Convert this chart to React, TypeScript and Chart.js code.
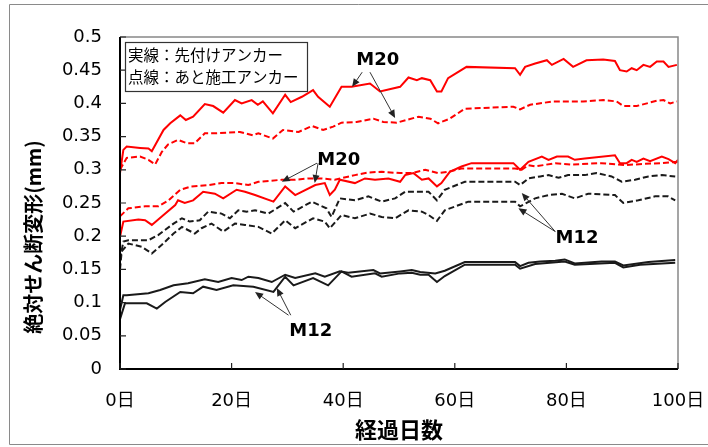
import React, { useEffect, useRef } from 'react';
import { Chart, registerables } from 'chart.js';

Chart.register(...registerables);

type P = [number, number];

// ---- axis ticks ----
const xTickDays = [0, 20, 40, 60, 80, 100];
const yTickValues = [0, 0.05, 0.1, 0.15, 0.2, 0.25, 0.3, 0.35, 0.4, 0.45, 0.5];

// ---- texts ----
const xTitle = '経過日数';
const yTitle = '絶対せん断変形(mm)';
const legendLines = ['実線：先付けアンカー', '点線：あと施工アンカー'];

// ---- series: [day, deformation mm] ----
// M20 先付け (solid, red, upper)
const m20PreUpper: P[] = [
  [0, 0.295], [0.6, 0.33], [1.2, 0.335], [3.6, 0.333], [5.1, 0.332], [5.7, 0.328], [7.8, 0.36], [9.0, 0.37],
  [10.8, 0.382], [11.8, 0.375], [13.1, 0.38], [15.2, 0.399], [16.7, 0.396], [18.5, 0.386], [20.6, 0.405],
  [21.8, 0.4], [23.6, 0.405], [24.7, 0.398], [25.6, 0.403], [27.4, 0.385], [29.6, 0.413], [30.6, 0.402],
  [32.6, 0.41], [34.6, 0.42], [35.5, 0.41], [37.6, 0.395], [39.7, 0.425], [41.5, 0.425], [44.8, 0.43],
  [46.6, 0.418], [50.2, 0.425], [51.7, 0.439], [53.2, 0.435], [54.1, 0.438], [55.6, 0.435], [56.8, 0.418],
  [57.6, 0.418], [58.8, 0.438], [62.1, 0.455], [70.8, 0.453], [71.7, 0.443], [72.6, 0.455], [74.4, 0.46],
  [76.5, 0.465], [77.4, 0.458], [79.5, 0.467], [81.2, 0.455], [83.6, 0.465], [86.6, 0.466], [88.7, 0.464],
  [89.6, 0.45], [90.8, 0.448], [91.7, 0.453], [92.6, 0.45], [93.8, 0.458], [95, 0.455], [96.2, 0.463],
  [97.4, 0.463], [98.3, 0.455], [99.8, 0.458],
];
// M20 あと施工 (dashed, red, upper)
const m20PostUpper: P[] = [
  [0, 0.3], [1.2, 0.318], [3.6, 0.32], [5.1, 0.315], [6.3, 0.308], [7.5, 0.327], [8.6, 0.338], [10.4, 0.345],
  [12.0, 0.34], [13.4, 0.34], [15.2, 0.355], [17.3, 0.355], [21.5, 0.357], [23.8, 0.352], [24.8, 0.355],
  [27.4, 0.347], [29.2, 0.36], [32.0, 0.357], [34.4, 0.366], [36.4, 0.36], [38.2, 0.365], [39.7, 0.371],
  [42.4, 0.372], [45.4, 0.377], [47.2, 0.372], [49.6, 0.371], [53.5, 0.38], [55.6, 0.377], [57.0, 0.37],
  [59.1, 0.377], [61.8, 0.392], [70.5, 0.395], [71.7, 0.391], [73.5, 0.398], [77.7, 0.403], [83.0, 0.403],
  [86.6, 0.405], [89.0, 0.403], [90.2, 0.396], [92.6, 0.396], [96.2, 0.404], [97.4, 0.405], [98.6, 0.4],
  [99.8, 0.403],
];
// M20 先付け (solid, red, lower)
const m20PreLower: P[] = [
  [0, 0.199], [0.6, 0.222], [3.3, 0.225], [4.5, 0.224], [5.7, 0.217], [7.8, 0.232], [9.9, 0.247], [10.4, 0.254],
  [11.6, 0.25], [13.1, 0.254], [14.9, 0.267], [17.0, 0.264], [18.5, 0.257], [20.9, 0.27], [22.4, 0.267],
  [24.2, 0.262], [27.5, 0.252], [29.6, 0.275], [31.4, 0.262], [35.0, 0.277], [36.7, 0.28], [37.6, 0.262],
  [38.5, 0.27], [39.4, 0.285], [42.1, 0.28], [43.9, 0.287], [45.7, 0.285], [48.1, 0.287], [50.2, 0.282],
  [51.1, 0.292], [52.6, 0.295], [54.1, 0.285], [55.3, 0.287], [56.8, 0.275], [57.6, 0.28], [59.1, 0.297],
  [61.2, 0.305], [63.0, 0.31], [70.5, 0.31], [71.7, 0.3], [73.2, 0.312], [75.6, 0.32], [76.8, 0.315],
  [78.3, 0.32], [80.3, 0.32], [81.5, 0.315], [83.3, 0.317], [88.7, 0.322], [89.6, 0.31], [90.8, 0.31],
  [91.7, 0.315], [92.6, 0.312], [93.8, 0.317], [95, 0.313], [97.1, 0.32], [98.3, 0.316], [99.5, 0.31], [100, 0.315],
];
// M20 あと施工 (dashed, red, lower)
const m20PostLower: P[] = [
  [0, 0.23], [1.5, 0.242], [4.5, 0.245], [6.9, 0.245], [8.7, 0.254], [10.8, 0.27], [12.8, 0.275], [15.8, 0.277],
  [18.2, 0.28], [20.6, 0.28], [23.0, 0.277], [24.8, 0.282], [29.0, 0.285], [31.4, 0.285], [33.7, 0.287],
  [36.1, 0.287], [38.5, 0.285], [42.1, 0.292], [44.5, 0.296], [46.9, 0.297], [50.2, 0.295], [52.3, 0.295],
  [54.7, 0.3], [57.0, 0.295], [58.8, 0.297], [61.2, 0.302], [70.8, 0.302], [72.0, 0.3], [73.2, 0.307],
  [74.4, 0.305], [78.0, 0.31], [80.9, 0.308], [86.3, 0.31], [90.5, 0.307], [94.1, 0.309], [97.1, 0.31], [100, 0.312],
];
// M12 あと施工 (dashed, black, upper)
const m12PostUpper: P[] = [
  [0, 0.165], [0.6, 0.192], [1.5, 0.194], [5.1, 0.194], [6.9, 0.202], [9.6, 0.219], [11.1, 0.227], [12.5, 0.222],
  [14.3, 0.224], [15.8, 0.237], [18.2, 0.234], [19.7, 0.227], [21.2, 0.239], [22.7, 0.237], [24.2, 0.239],
  [26.6, 0.234], [29.6, 0.25], [31.1, 0.237], [34.4, 0.252], [37.0, 0.242], [37.9, 0.229], [39.4, 0.257],
  [42.1, 0.254], [44.5, 0.26], [46.9, 0.252], [49.3, 0.257], [51.1, 0.267], [55.3, 0.267], [56.8, 0.254],
  [58.2, 0.27], [61.8, 0.282], [70.8, 0.282], [71.7, 0.277], [73.2, 0.287], [75.3, 0.29], [76.8, 0.292],
  [78.6, 0.288], [80.3, 0.292], [83.3, 0.292], [85.4, 0.295], [88.1, 0.29], [89.9, 0.282], [92.3, 0.285],
  [94.7, 0.29], [97.1, 0.292], [99.5, 0.29],
];
// M12 あと施工 (dashed, black, lower)
const m12PostLower: P[] = [
  [0, 0.15], [0.3, 0.177], [1.5, 0.189], [3.9, 0.184], [5.7, 0.174], [7.5, 0.187], [9.6, 0.204], [11.1, 0.214],
  [13.4, 0.204], [14.6, 0.212], [16.4, 0.219], [18.5, 0.207], [20.6, 0.219], [22.4, 0.217], [24.8, 0.214],
  [27.2, 0.204], [29.6, 0.224], [31.4, 0.212], [34.6, 0.227], [36.7, 0.222], [37.6, 0.212], [39.7, 0.232],
  [42.1, 0.227], [44.8, 0.234], [46.9, 0.229], [49.3, 0.227], [51.7, 0.239], [54.1, 0.237], [55.3, 0.232],
  [56.8, 0.223], [58.2, 0.239], [62.4, 0.252], [70.8, 0.252], [71.7, 0.245], [74.4, 0.257], [76.8, 0.262],
  [79.2, 0.264], [81.5, 0.257], [83.9, 0.264], [88.7, 0.262], [90.2, 0.25], [92.9, 0.254], [95.9, 0.26],
  [98.2, 0.26], [99.5, 0.254],
];
// M12 先付け (solid, black, upper)
const m12PreUpper: P[] = [
  [0, 0.089], [0.6, 0.111], [1.2, 0.111], [5.1, 0.114], [7.2, 0.119], [9.6, 0.126], [12.2, 0.129], [15.2, 0.135],
  [17.6, 0.131], [20.0, 0.137], [21.8, 0.134], [23.0, 0.139], [24.8, 0.137], [27.2, 0.131], [29.6, 0.142],
  [31.4, 0.137], [35.0, 0.144], [36.7, 0.139], [39.4, 0.147], [40.9, 0.145], [45.4, 0.149], [46.6, 0.144],
  [50.2, 0.147], [52.3, 0.149], [53.8, 0.146], [56.5, 0.144], [58.2, 0.148], [61.8, 0.161], [70.8, 0.161],
  [71.7, 0.155], [73.2, 0.16], [75.3, 0.162], [78.0, 0.163], [79.7, 0.165], [81.5, 0.159], [86.3, 0.162],
  [88.7, 0.162], [90.2, 0.156], [94.7, 0.161], [99.5, 0.164],
];
// M12 先付け (solid, black, lower)
const m12PreLower: P[] = [
  [0, 0.075], [0.9, 0.099], [4.8, 0.099], [6.6, 0.091], [8.1, 0.101], [10.8, 0.116], [13.1, 0.114], [14.9, 0.124],
  [17.3, 0.119], [20.3, 0.126], [23.9, 0.124], [27.5, 0.116], [29.6, 0.139], [31.1, 0.126], [34.6, 0.137],
  [37.3, 0.126], [39.7, 0.147], [41.5, 0.139], [45.7, 0.144], [46.9, 0.139], [50.2, 0.144], [52.3, 0.145],
  [53.8, 0.142], [55.3, 0.142], [56.8, 0.131], [58.2, 0.14], [61.8, 0.157], [70.8, 0.157], [71.7, 0.151],
  [74.4, 0.158], [79.7, 0.162], [81.5, 0.157], [88.7, 0.16], [90.2, 0.153], [93.2, 0.157], [99.5, 0.16],
];

// ---- annotations (data coordinates: [day, mm]) ----
const noteLabels = ['M20', 'M20', 'M12', 'M12'];
const noteAnchors: P[] = [[46.2, 0.465], [39.2, 0.315], [81.9, 0.197], [34.2, 0.056]];
const noteArrows: P[][][] = [
  [[[43.4, 0.447], [41.6, 0.425]], [[44.8, 0.447], [49.3, 0.378]]],
  [[[35.3, 0.31], [29.0, 0.282]], [[35.5, 0.31], [34.9, 0.28]]],
  [[[78.0, 0.207], [72.0, 0.265]], [[78.0, 0.207], [71.4, 0.242]]],
  [[[30.2, 0.081], [24.2, 0.116]], [[30.6, 0.081], [28.1, 0.122]]],
];

const RED = '#ff0000';
const BLACK = '#1a1a1a';
const DASH = [6, 3];

const seriesList = [
  { data: m20PreUpper, color: RED, dash: [] as number[] },
  { data: m20PostUpper, color: RED, dash: DASH },
  { data: m20PreLower, color: RED, dash: [] as number[] },
  { data: m20PostLower, color: RED, dash: DASH },
  { data: m12PostUpper, color: BLACK, dash: DASH },
  { data: m12PostLower, color: BLACK, dash: DASH },
  { data: m12PreUpper, color: BLACK, dash: [] as number[] },
  { data: m12PreLower, color: BLACK, dash: [] as number[] },
];

const NUM_FONT = '"DejaVu Sans", "Noto Sans CJK JP", sans-serif';
const CJK_FONT = '"Noto Sans CJK JP", sans-serif';

function arrow(ctx: CanvasRenderingContext2D, x1: number, y1: number, x2: number, y2: number) {
  const ang = Math.atan2(y2 - y1, x2 - x1);
  const len = 8;
  const hw = 3.5;
  ctx.beginPath();
  ctx.moveTo(x1, y1);
  ctx.lineTo(x2 - Math.cos(ang) * len * 0.8, y2 - Math.sin(ang) * len * 0.8);
  ctx.stroke();
  ctx.beginPath();
  ctx.moveTo(x2, y2);
  ctx.lineTo(x2 - Math.cos(ang) * len - Math.sin(ang) * hw, y2 - Math.sin(ang) * len + Math.cos(ang) * hw);
  ctx.lineTo(x2 - Math.cos(ang) * len + Math.sin(ang) * hw, y2 - Math.sin(ang) * len - Math.cos(ang) * hw);
  ctx.closePath();
  ctx.fill();
}

const decorPlugin = {
  id: 'decor',
  afterDraw(chart: any) {
    const ctx: CanvasRenderingContext2D = chart.ctx;
    const { left, right, top, bottom } = chart.chartArea;
    const xs = chart.scales.x;
    const ys = chart.scales.y;
    ctx.save();

    // outer figure frame
    ctx.strokeStyle = '#8a8a8a';
    ctx.lineWidth = 1;
    ctx.beginPath();
    ctx.moveTo(708, 4.5);
    ctx.lineTo(9.5, 4.5);
    ctx.lineTo(9.5, 444.5);
    ctx.lineTo(708, 444.5);
    ctx.stroke();

    // plot frame: top/right gray
    ctx.strokeStyle = '#888888';
    ctx.lineWidth = 1.5;
    ctx.beginPath();
    ctx.moveTo(left, top);
    ctx.lineTo(right, top);
    ctx.lineTo(right, bottom);
    ctx.stroke();

    // axes black
    ctx.strokeStyle = '#000';
    ctx.lineWidth = 2;
    ctx.beginPath();
    ctx.moveTo(left, top);
    ctx.lineTo(left, bottom);
    ctx.lineTo(right, bottom);
    ctx.stroke();

    // inside ticks
    ctx.lineWidth = 1.2;
    ctx.strokeStyle = '#222';
    ctx.beginPath();
    yTickValues.forEach((v) => {
      const y = ys.getPixelForValue(v);
      ctx.moveTo(left, y);
      ctx.lineTo(left + 6, y);
    });
    xTickDays.forEach((d) => {
      const x = xs.getPixelForValue(d);
      ctx.moveTo(x, bottom);
      ctx.lineTo(x, bottom - 6);
    });
    ctx.stroke();

    // legend box
    const bx = left + 5;
    const by = top + 5;
    ctx.fillStyle = '#fff';
    ctx.fillRect(bx, by, 182, 49);
    ctx.strokeStyle = '#333';
    ctx.lineWidth = 1.2;
    ctx.strokeRect(bx + 0.5, by + 0.5, 182, 49);
    ctx.fillStyle = '#000';
    ctx.font = `15.5px ${CJK_FONT}`;
    ctx.textAlign = 'left';
    ctx.textBaseline = 'middle';
    legendLines.forEach((t, i) => ctx.fillText(t, bx + 3, by + 13 + i * 22.5));

    // annotations
    ctx.strokeStyle = '#333';
    ctx.fillStyle = '#222';
    ctx.lineWidth = 1;
    noteArrows.forEach((arr) => {
      arr.forEach(([a, b]) => {
        arrow(ctx, xs.getPixelForValue(a[0]), ys.getPixelForValue(a[1]), xs.getPixelForValue(b[0]), ys.getPixelForValue(b[1]));
      });
    });
    ctx.fillStyle = '#000';
    ctx.font = `bold 18px ${NUM_FONT}`;
    ctx.textAlign = 'center';
    ctx.textBaseline = 'middle';
    noteLabels.forEach((t, i) => {
      ctx.fillText(t, xs.getPixelForValue(noteAnchors[i][0]), ys.getPixelForValue(noteAnchors[i][1]));
    });

    // axis titles
    ctx.font = `bold 22px ${CJK_FONT}`;
    ctx.fillText(xTitle, (left + right) / 2, 430);
    ctx.save();
    ctx.translate(33, 237);
    ctx.rotate(-Math.PI / 2);
    ctx.font = `bold 20px ${CJK_FONT}`;
    ctx.fillText(yTitle, 0, 0);
    ctx.restore();

    ctx.restore();
  },
};

export default function App() {
  const ref = useRef<HTMLCanvasElement | null>(null);
  useEffect(() => {
    document.body.style.margin = '0';
    const canvas = ref.current!;
    const chart = new Chart(canvas, {
      type: 'line',
      data: {
        datasets: seriesList.map((s) => ({
          data: s.data.map(([x, y]) => ({ x, y })),
          borderColor: s.color,
          backgroundColor: s.color,
          borderWidth: 2,
          borderDash: s.dash,
          pointRadius: 0,
          tension: 0,
          fill: false,
        })),
      },
      options: {
        animation: false,
        responsive: false,
        maintainAspectRatio: false,
        devicePixelRatio: 1,
        layout: { padding: { top: 37, right: 30, left: 0, bottom: 0 } },
        plugins: { legend: { display: false }, tooltip: { enabled: false }, title: { display: false } },
        scales: {
          x: {
            type: 'linear',
            min: 0,
            max: 100,
            afterBuildTicks: (s: any) => {
              s.ticks = xTickDays.map((v) => ({ value: v }));
            },
            afterFit: (s: any) => {
              s.height = 78;
              s.paddingLeft = 0;
              s.paddingRight = 0;
            },
            ticks: {
              callback: (v: any) => `${v}日`,
              font: { size: 18, family: NUM_FONT },
              color: '#000',
              padding: 22,
              maxRotation: 0,
              autoSkip: false,
            },
            grid: { display: false, drawTicks: false },
            border: { display: false },
          },
          y: {
            type: 'linear',
            min: 0,
            max: 0.5,
            afterBuildTicks: (s: any) => {
              s.ticks = yTickValues.map((v) => ({ value: v }));
            },
            afterFit: (s: any) => {
              s.width = 120;
              s.paddingTop = 0;
              s.paddingBottom = 0;
            },
            ticks: {
              callback: (v: any) => String(Number(Number(v).toFixed(2))),
              font: { size: 18, family: NUM_FONT },
              color: '#000',
              padding: 18,
              autoSkip: false,
            },
            grid: { display: false, drawTicks: false },
            border: { display: false },
          },
        },
      },
      plugins: [decorPlugin],
    } as any);
    return () => chart.destroy();
  }, []);
  return <canvas ref={ref} width={708} height={447} style={{ display: 'block', width: 708, height: 447 }} />;
}
